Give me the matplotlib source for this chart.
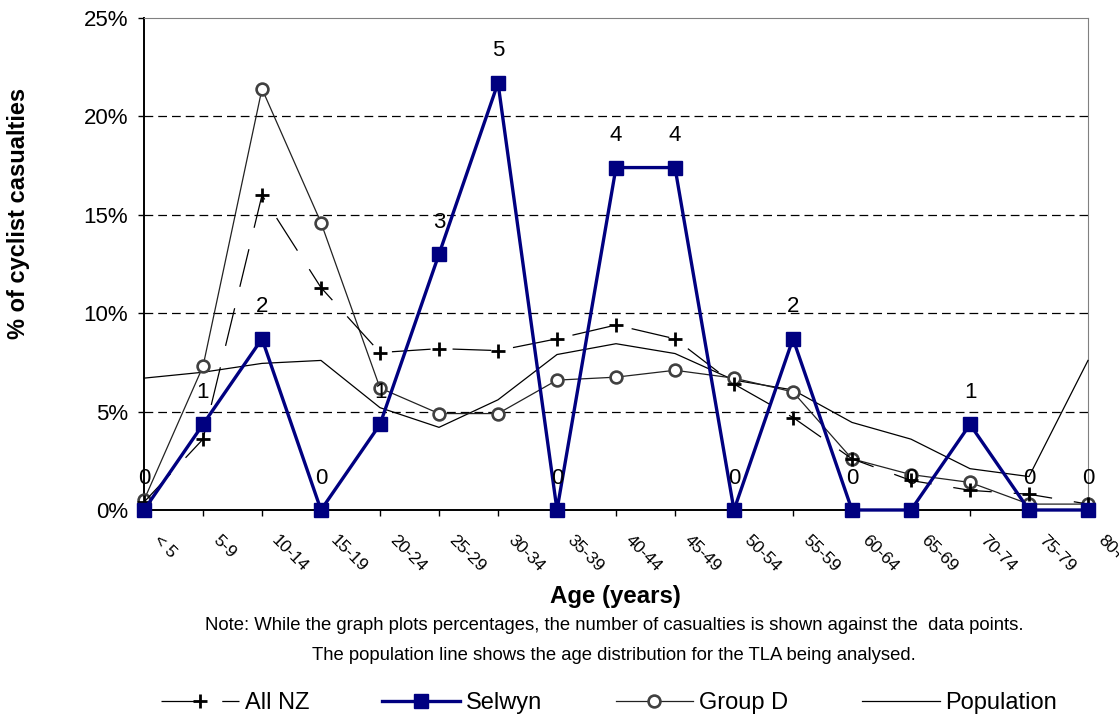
import matplotlib
matplotlib.use("Agg")
import matplotlib.pyplot as plt
from matplotlib.ticker import PercentFormatter

plt.rcParams["font.family"] = ["Liberation Sans", "DejaVu Sans"]

# ── Data ───────────────────────────────────────────────────────
age_groups = ["< 5", "5-9", "10-14", "15-19", "20-24", "25-29", "30-34",
              "35-39", "40-44", "45-49", "50-54", "55-59", "60-64",
              "65-69", "70-74", "75-79", "80+"]

selwyn_counts = [0, 1, 2, 0, 1, 3, 5, 0, 4, 4, 0, 2, 0, 0, 1, 0, 0]
selwyn_pct = [0.0, 4.35, 8.7, 0.0, 4.35, 13.0, 21.7, 0.0, 17.4, 17.4,
              0.0, 8.7, 0.0, 0.0, 4.35, 0.0, 0.0]
all_nz_pct = [0.4, 3.6, 16.0, 11.3, 8.0, 8.2, 8.1, 8.7, 9.4, 8.7,
              6.4, 4.7, 2.6, 1.5, 1.0, 0.8, 0.3]
group_d_pct = [0.5, 7.3, 21.4, 14.6, 6.2, 4.9, 4.9, 6.6, 6.75, 7.1,
               6.7, 6.0, 2.6, 1.8, 1.4, 0.3, 0.3]
population_pct = [6.7, 7.0, 7.45, 7.6, 5.2, 4.2, 5.6, 7.9, 8.45, 7.95,
                  6.6, 6.1, 4.45, 3.6, 2.1, 1.7, 7.6]

NAVY = "#000080"

# ── Figure ─────────────────────────────────────────────────────
W, H = 1119, 715
fig = plt.figure(figsize=(W / 100, H / 100), dpi=100)
ax = fig.add_axes([144 / W, 1 - 510 / H, 944 / W, 492 / H])

x = list(range(len(age_groups)))

ax.plot(x, population_pct, color="black", lw=0.9, label="Population",
        clip_on=False, zorder=3)
ax.plot(x, group_d_pct, color="#222222", lw=0.9, marker="o", markersize=8.5,
        markerfacecolor="white", markeredgecolor="#404040", markeredgewidth=1.9,
        label="Group D", clip_on=False, zorder=4)
ax.plot(x, all_nz_pct, color="black", lw=0.9, linestyle=(0, (31, 17.6)),
        marker="+", markersize=9.5, markeredgewidth=2, label="All NZ",
        clip_on=False, zorder=5)
ax.plot(x, selwyn_pct, color=NAVY, lw=2.4, marker="s", markersize=9.5,
        markerfacecolor=NAVY, markeredgecolor=NAVY, label="Selwyn",
        clip_on=False, zorder=6)

# casualty counts above the Selwyn points
for xi, yi, n in zip(x, selwyn_pct, selwyn_counts):
    ax.annotate(str(n), (xi, yi), xytext=(0, 23), textcoords="offset points",
                ha="center", va="center", fontsize=16, zorder=7)

# ── Axes styling ───────────────────────────────────────────────
ax.set_xlim(0, len(age_groups) - 1)
ax.set_ylim(0, 25)
ax.set_yticks([0, 5, 10, 15, 20, 25])
ax.yaxis.set_major_formatter(PercentFormatter(decimals=0))
ax.set_xticks(x)
ax.set_xticklabels([])
for xi, lab in zip(x, age_groups):
    ax.annotate(lab, (xi, 0), xytext=(12.5, -16.5), textcoords="offset points",
                rotation=-45, ha="left", va="top", rotation_mode="anchor",
                fontsize=12.5, annotation_clip=False)

ax.tick_params(axis="y", labelsize=16, length=4.5, width=1, direction="out", pad=7)
ax.tick_params(axis="x", length=4.5, width=1, direction="out")

for y in [5, 10, 15, 20]:
    ax.axhline(y, color="black", lw=0.9, linestyle=(0, (7, 4)), zorder=1)

ax.spines["left"].set_linewidth(1.4)
ax.spines["bottom"].set_linewidth(1.4)
ax.spines["top"].set_color("#808080")
ax.spines["right"].set_color("#808080")

fig.text(19 / W, 1 - 213 / H, "% of cyclist casualties", rotation=90,
         ha="center", va="center", fontsize=17, fontweight="bold")
fig.text(615 / W, 1 - 597 / H, "Age (years)", ha="center", va="center",
         fontsize=17.3, fontweight="bold")
fig.text(614 / W, 1 - 626 / H,
         "Note: While the graph plots percentages, the number of casualties "
         "is shown against the  data points.",
         ha="center", va="center", fontsize=13.3)
fig.text(614 / W, 1 - 656 / H,
         "The population line shows the age distribution for the TLA being analysed.",
         ha="center", va="center", fontsize=13.3)

handles, labels = ax.get_legend_handles_labels()
order = [labels.index(k) for k in ["All NZ", "Selwyn", "Group D", "Population"]]
fig.legend([handles[i] for i in order], [labels[i] for i in order],
           loc="center", bbox_to_anchor=(609 / W, 1 - 703 / H), ncol=4,
           frameon=False, fontsize=17, handlelength=3.3, handletextpad=0.25,
           columnspacing=3.1, numpoints=1, borderpad=0)

fig.savefig("out.png", dpi=100)
